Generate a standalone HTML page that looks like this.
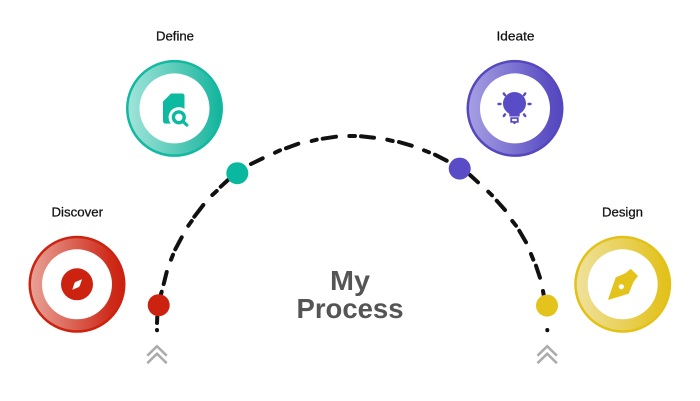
<!DOCTYPE html>
<html>
<head>
<meta charset="utf-8">
<style>
html,body{margin:0;padding:0;background:#fff;width:700px;height:401px;overflow:hidden}
svg{display:block}
text{font-family:"Liberation Sans",sans-serif}
</style>
</head>
<body>
<svg width="700" height="401" viewBox="0 0 700 401" xmlns="http://www.w3.org/2000/svg">
<defs>
<linearGradient id="gr" x1="0" y1="0" x2="1" y2="0"><stop offset="0" stop-color="#e8a196"/><stop offset="0.85" stop-color="#cf2d1c"/><stop offset="1" stop-color="#cc2210"/></linearGradient>
<linearGradient id="gt" x1="0" y1="0" x2="1" y2="0"><stop offset="0" stop-color="#a0e3d9"/><stop offset="0.85" stop-color="#2cbca6"/><stop offset="1" stop-color="#12b49c"/></linearGradient>
<linearGradient id="gp" x1="0" y1="0" x2="1" y2="0"><stop offset="0" stop-color="#a69ee3"/><stop offset="0.85" stop-color="#5d50c4"/><stop offset="1" stop-color="#5547bd"/></linearGradient>
<linearGradient id="gy" x1="0" y1="0" x2="1" y2="0"><stop offset="0" stop-color="#efe19c"/><stop offset="0.85" stop-color="#e4c52a"/><stop offset="1" stop-color="#e2c118"/></linearGradient>
</defs>

<!-- dashed arc -->
<g stroke="#111" stroke-width="4" stroke-linecap="round" fill="none">
<path d="M157.3 316.7L157 323M157 330L157 330.2"/>
<path d="M160.7 295L161.7 291.7M163.7 284L166.7 272M171 259.7L173 254.7M175.3 249.3L181.7 237.3M188.3 225.7L191.7 221M194.3 216.7L203.3 205M212.3 195L216.7 191M220.7 186.7L228 180"/>
<path d="M251 164L262.7 158.3M275 152.7L280 150.3M286 148.3L298.3 143.7M311.7 141L316.7 139.7M322.7 138.7L336 136.7M349.3 136L355 136M361 136.3L374 137.7M387.3 139.7L392.7 141M399 142L411.7 145.7M424 150.3L429 152.3M435 154.7L446.7 160.7"/>
<path d="M470 175L478 182.3M488.3 191.7L492 195.3M496.7 200.7L505 210M512.3 221L516 225.7M519.3 230.7L526 242.3M531 254L533.3 259.7M536 265.7L540 277.7M543 291L543.7 295"/>
<path d="M547.3 330L547.3 330.2"/>
</g>

<!-- path dots -->
<circle cx="158.7" cy="305.2" r="11" fill="#cc2210"/>
<circle cx="237.3" cy="173.2" r="11" fill="#0ab8a0"/>
<circle cx="459.7" cy="168.6" r="11" fill="#5a4cc6"/>
<circle cx="547" cy="305.6" r="11" fill="#e3c31c"/>

<!-- chevrons -->
<g stroke="#ababab" stroke-width="2.5" fill="none">
<path d="M147.3 355.7L157 346.2L166.7 355.7M147.3 363.2L157 353.7L166.7 363.2"/>
<path d="M537.5 355.7L547.2 346.2L556.9 355.7M537.5 363.2L547.2 353.7L556.9 363.2"/>
</g>

<!-- Discover -->
<circle cx="77" cy="284.3" r="48.5" fill="#cc2210"/>
<circle cx="77" cy="284.3" r="46" fill="url(#gr)"/>
<circle cx="77" cy="284.3" r="35" fill="#fff"/>
<circle cx="77" cy="284.3" r="16" fill="#cc2210"/>
<path d="M72.3 289.7L74.5 283Q75 282 76 281.8L82 279.2L79.8 285.8Q79.4 286.8 78.4 287.2Z" fill="#fff"/>

<!-- Define -->
<circle cx="174.5" cy="108.4" r="48.5" fill="#12b8a0"/>
<circle cx="174.5" cy="108.4" r="46" fill="url(#gt)"/>
<circle cx="174.5" cy="108.4" r="35" fill="#fff"/>
<path d="M171 93.5L182 93.5Q184.5 93.5 184.5 96L184.5 112L176 123.6L166 123.6Q163 123.6 163 120.6L163 101.5Z" fill="#0cb9a1"/>
<circle cx="178.8" cy="117.3" r="10.2" fill="#fff"/>
<circle cx="178.8" cy="117.3" r="5.4" fill="none" stroke="#0cb9a1" stroke-width="3.4"/>
<path d="M183 121.5L186.8 125" stroke="#0cb9a1" stroke-width="3.2" stroke-linecap="round"/>

<!-- Ideate -->
<circle cx="515" cy="108.4" r="48.5" fill="#5547bd"/>
<circle cx="515" cy="108.4" r="46" fill="url(#gp)"/>
<circle cx="515" cy="108.4" r="35" fill="#fff"/>
<path d="M509.3 116.5L509.3 113.8C505.3 111.3 503 107.7 503 103.5A11.5 11.5 0 0 1 526 103.5C526 107.7 523.7 111.3 519.7 113.8L519.7 116.5Z" fill="#5a4cc6"/>
<path d="M510.3 117.3H518.7V122.8H516.2L515 124H514L512.8 122.8H510.3Z" fill="#5a4cc6"/>
<rect x="512.2" y="118.9" width="4.6" height="2.2" fill="#fff"/>
<g stroke="#5a4cc6" stroke-width="2.4" stroke-linecap="round">
<path d="M498.5 104H500.5M528.5 104H530.5M503.8 93.5L505 95.2M525.2 93.5L524 95.2M503.8 116L505 114.4M525.2 116L524 114.4"/>
</g>

<!-- Design -->
<circle cx="622.7" cy="284.3" r="48.5" fill="#e2c118"/>
<circle cx="622.7" cy="284.3" r="46" fill="url(#gy)"/>
<circle cx="622.7" cy="284.3" r="35" fill="#fff"/>
<path d="M608.8 299.2L616.2 277.8L625.6 273.8L630.7 269.6L637.2 276L632.8 282L628.3 293.2Z" fill="#e3c31c" stroke="#e3c31c" stroke-width="1.2" stroke-linejoin="round"/>
<circle cx="621.3" cy="286.7" r="2.6" fill="#fff"/>

<!-- labels -->
<g fill="#111" stroke="#111" stroke-width="0.25" font-size="12.5">
<text x="51.5" y="216.5" textLength="51.5" lengthAdjust="spacingAndGlyphs">Discover</text>
<text x="156" y="40.5" textLength="38" lengthAdjust="spacingAndGlyphs">Define</text>
<text x="496.5" y="40.5" textLength="38" lengthAdjust="spacingAndGlyphs">Ideate</text>
<text x="602" y="216.5" textLength="41" lengthAdjust="spacingAndGlyphs">Design</text>
</g>

<!-- title -->
<g fill="#555" font-size="28" font-weight="bold">
<text x="330" y="290" textLength="40" lengthAdjust="spacingAndGlyphs">My</text>
<text x="296.5" y="318" textLength="107" lengthAdjust="spacingAndGlyphs">Process</text>
</g>
</svg>
</body>
</html>
